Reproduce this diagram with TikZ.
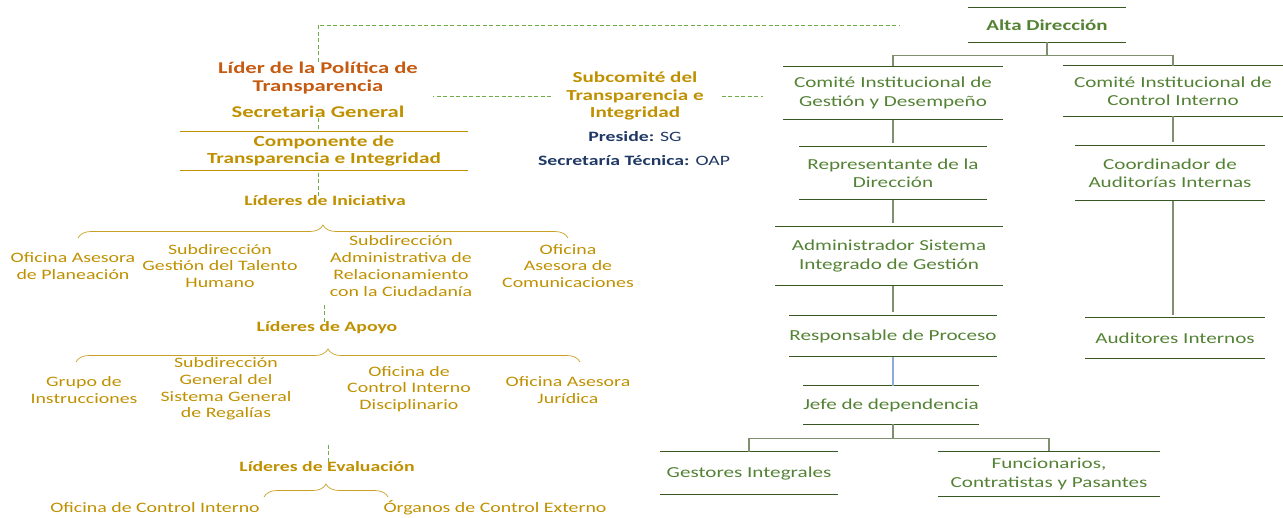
\documentclass[tikz,border=0pt]{standalone}
\usepackage{fontspec}
\setmainfont{Carlito}[FakeStretch=1.38]
\usepackage{tikz}
\usetikzlibrary{arrows,positioning,decorations.pathreplacing}

\definecolor{grn}{HTML}{548235}
\definecolor{grnrule}{HTML}{385723}
\definecolor{grnlink}{HTML}{7F8F70}
\definecolor{gold}{HTML}{BF9000}
\definecolor{rust}{HTML}{C55A11}
\definecolor{navy}{HTML}{1F3864}
\definecolor{dashgrn}{HTML}{70AD47}
\definecolor{lblue}{HTML}{8FAADC}

\begin{document}
\begin{tikzpicture}[x=1pt,y=-1pt]
\tikzstyle{every node}=[inner sep=0pt,align=center]
\tikzstyle{role}=[text=grn,font=\fontsize{15.3}{18.5}\selectfont]
\tikzstyle{rule}=[grnrule,line width=1pt]
\tikzstyle{link}=[grnlink,line width=1.2pt]
\tikzstyle{dashlink}=[dashgrn,dash pattern=on 4pt off 2.5pt,line width=0.9pt]
\tikzstyle{head}=[text=gold,font=\fontsize{16.4}{18}\selectfont\bfseries]
\tikzstyle{lead}=[text=gold,font=\fontsize{14.3}{17}\selectfont\bfseries]
\tikzstyle{unit}=[text=gold,font=\fontsize{14.4}{16.8}\selectfont]
\tikzstyle{bracket}=[gold!85,line width=0.7pt,decorate,decoration={brace,amplitude=13pt}]
\useasboundingbox (0,0) rectangle (1283,517);

% management chain
\node[role,font=\fontsize{15.2}{18}\selectfont\bfseries,minimum width=157,minimum height=34] (alta) at (1047,25) {Alta Dirección};
\node[role,minimum width=220,minimum height=53] (cigd) at (893,93) {Comité Institucional de\\Gestión y Desempeño};
\node[role,minimum width=220,minimum height=50] (cici) at (1173,91) {Comité Institucional de\\Control Interno};
\node[role,minimum width=187,minimum height=53] (rep) at (893,173) {Representante de la\\Dirección};
\node[role,minimum width=228,minimum height=59] (adm) at (889,256) {Administrador Sistema\\Integrado de Gestión};
\node[role,minimum width=205,minimum height=41] (resp) at (893,336) {Responsable de Proceso};
\node[role,minimum width=162,minimum height=38] (jefe) at (891,405) {Jefe de dependencia};
\node[role,minimum width=178,minimum height=42] (gest) at (749,473) {Gestores Integrales};
\node[role,minimum width=222,minimum height=45] (func) at (1049,474) {Funcionarios,\\Contratistas y Pasantes};
\node[role,minimum width=190,minimum height=55] (coord) at (1170,173) {Coordinador de\\Auditorías Internas};
\node[role,minimum width=180,minimum height=40] (aud) at (1175,338) {Auditores Internos};

\foreach \n in {alta,cigd,cici,rep,adm,resp,jefe,gest,func,coord,aud}
  \draw[rule] (\n.north west) -- (\n.north east) (\n.south west) -- (\n.south east);

\draw[link] (alta.south) -- ++(0,13) -| (cigd.north);
\draw[link] (alta.south) -- ++(0,13) -| (cici.north);
\draw[link,shorten <=3pt] (rep.north) -- (rep.north |- cigd.south);
\draw[link,shorten <=3pt] (adm.north -| rep.north) -- (rep.south);
\draw[link,shorten <=3pt] (resp.north) -- (resp.north |- adm.south);
\draw[lblue,line width=1.2pt] (resp.south) -- (resp.south |- jefe.north);
\draw[link] (jefe.south -| resp.south) -- ++(0,14) -| (gest.north);
\draw[link] (jefe.south -| resp.south) -- ++(0,14) -| (func.north);
\draw[link,shorten <=3pt] (coord.north -| cici.south) -- (cici.south);
\draw[link,shorten <=3pt] (aud.north -| cici.south) -- (coord.south -| cici.south);

% transparency component
\node[head,text=rust] (lider) at (318,78) {Líder de la Política de\\Transparencia};
\node[head] (sg) at (318,112) {Secretaria General};
\node[head,font=\fontsize{15.4}{17}\selectfont\bfseries,minimum width=287,minimum height=39] (comp) at (324,151) {Componente de\\Transparencia e Integridad};
\draw[gold,line width=1pt] (comp.north west) -- (comp.north east) (comp.south west) -- (comp.south east);

\node[head,font=\fontsize{15.3}{17.5}\selectfont\bfseries] (sub) at (635,96) {Subcomité del\\Transparencia e\\Integridad};
\node[text=navy,font=\fontsize{14.3}{17}\selectfont] (pres) at (635,137) {\textbf{Preside:} SG};
\node[text=navy,font=\fontsize{14.3}{17}\selectfont] (sect) at (634,161) {\textbf{Secretaría Técnica:} OAP};

\draw[dashlink] (lider.north) -- (lider.north |- alta.west) -- ([xshift=-68pt]alta.west);
\draw[dashlink] (sg.south) -- (comp.north -| sg.south);
\draw[dashlink,shorten <=15pt] (sub.west) -- ++(-133,0);
\draw[dashlink,shorten <=18pt,shorten >=20pt] (sub.east) -- (sub.east -| cigd.west);

% leaders
\node[lead] (ini) at (325,201) {Líderes de Iniciativa};
\draw[dashlink,shorten <=2pt] (comp.south -| sg.south) -- (ini.north -| sg.south);
\node[unit] (opl) at (73,266) {Oficina Asesora\\de Planeación};
\node[unit] (sgth) at (220,266) {Subdirección\\Gestión del Talento\\Humano};
\node[unit] (sarc) at (401,266) {Subdirección\\Administrativa de\\Relacionamiento\\con la Ciudadanía};
\node[unit] (oac) at (568,266) {Oficina\\Asesora de\\Comunicaciones};
\coordinate (inil) at (78,238);
\coordinate (inir) at (568,238);
\draw[bracket] (inil) -- (inir);

\node[lead] (apo) at (327,328) {Líderes de Apoyo};
\draw[dashlink] (apo.north -| 324,0) -- ++(0,-19);
\node[unit] (gi) at (84,390) {Grupo de\\Instrucciones};
\node[unit] (sgsr) at (226,389) {Subdirección\\General del\\Sistema General\\de Regalías};
\node[unit] (ocid) at (409,389) {Oficina de\\Control Interno\\Disciplinario};
\node[unit] (oaj) at (568,390) {Oficina Asesora\\Jurídica};
\coordinate (apol) at (76,362);
\coordinate (apor) at (580,362);
\draw[bracket] (apol) -- (apor);

\node[lead] (eva) at (327,467) {Líderes de Evaluación};
\draw[dashlink] (eva.north -| 328,0) -- ++(0,-18);
\node[unit] (oci) at (155,508) {Oficina de Control Interno};
\node[unit] (oce) at (495,508) {Órganos de Control Externo};
\coordinate (eval) at (264,497);
\coordinate (evar) at (388,497);
\draw[bracket] (eval) -- (evar);
\end{tikzpicture}
\end{document}
